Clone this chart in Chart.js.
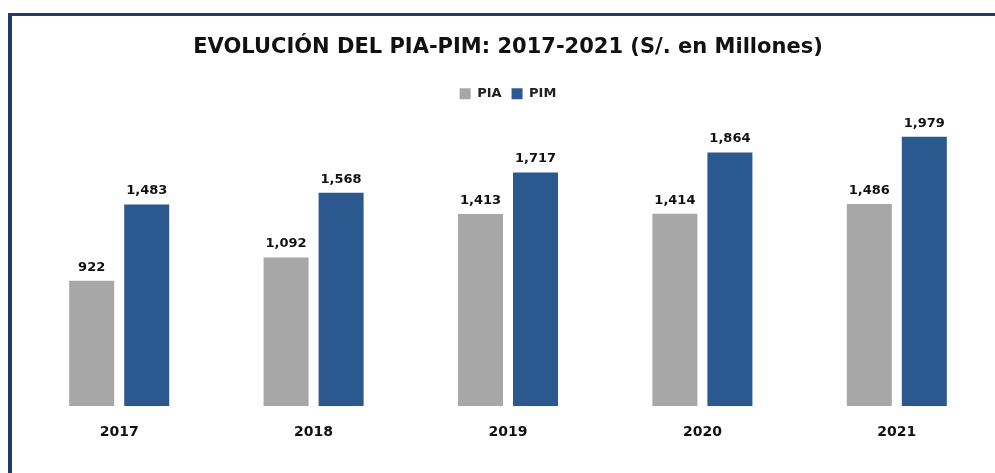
<!DOCTYPE html>
<html>
<head>
<meta charset="utf-8">
<script src="https://cdn.jsdelivr.net/npm/chart.js@4"></script>
<style>
    body { margin: 0; background: #fff; }
    #frame {
        position: absolute; left: 8px; top: 13px; width: 990px; height: 470px;
        border-left: 4px solid #1f3b6b; border-top: 3px solid #1f3b6b;
    }
    #wrap { position: absolute; left: 0; top: 0; width: 995px; height: 473px; }
</style>
</head>
<body>
<div id="frame"></div>
<div id="wrap"><canvas id="pimChart"></canvas></div>
<script>
const years = ['2017', '2018', '2019', '2020', '2021'];
const piaValues = [922, 1092, 1413, 1414, 1486];
const pimValues = [1483, 1568, 1717, 1864, 1979];

const boldFont = '"DejaVu Sans", "Liberation Sans", Arial, sans-serif';

// etiquetas encima de cada barra
const barLabels = {
    id: 'barLabels',
    afterDatasetsDraw(chart) {
        const ctx = chart.ctx;
        ctx.save();
        ctx.font = 'bold 13px ' + boldFont;
        ctx.fillStyle = '#111';
        ctx.textAlign = 'center';
        ctx.textBaseline = 'bottom';
        chart.data.datasets.forEach((ds, i) => {
            chart.getDatasetMeta(i).data.forEach((bar, j) => {
                ctx.fillText(ds.data[j].toLocaleString('en-US'), bar.x, bar.y - 7);
            });
        });
        ctx.restore();
    }
};

const ctx = document.getElementById('pimChart').getContext('2d');
new Chart(ctx, {
    type: 'bar',
    data: {
        labels: years,
        datasets: [
            { label: 'PIA', data: piaValues, backgroundColor: '#a7a7a7' },
            { label: 'PIM', data: pimValues, backgroundColor: '#2c5890' }
        ]
    },
    options: {
        responsive: true,
        maintainAspectRatio: false,
        animation: false,
        layout: { padding: { left: 22, right: 1, top: 0, bottom: 14 } },
        datasets: { bar: { categoryPercentage: 0.566, barPercentage: 0.818 } },
        plugins: {
            title: {
                display: true,
                text: 'EVOLUCIÓN DEL PIA-PIM: 2017-2021 (S/. en Millones)',
                color: '#111',
                font: { family: boldFont, size: 21, weight: 'bold' },
                padding: { top: 35, bottom: 17 }
            },
            legend: {
                display: true,
                labels: {
                    color: '#222',
                    boxWidth: 11,
                    boxHeight: 11,
                    font: { family: boldFont, size: 13, weight: 'bold' }
                }
            },
            tooltip: { enabled: false }
        },
        scales: {
            x: {
                grid: { display: false, drawTicks: false },
                border: { display: false },
                ticks: {
                    color: '#111',
                    padding: 18,
                    font: { family: boldFont, size: 14, weight: 'bold' }
                }
            },
            y: {
                display: false,
                min: 0,
                max: 2175
            }
        }
    },
    plugins: [barLabels]
});
</script>
</body>
</html>
